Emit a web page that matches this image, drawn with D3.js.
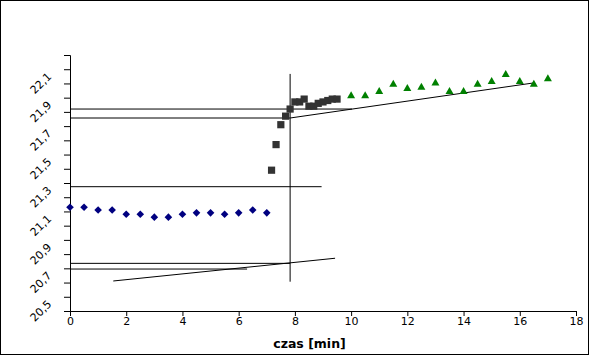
<!DOCTYPE html>
<html><head><meta charset="utf-8">
<script src="https://cdn.jsdelivr.net/npm/d3@7"></script>
<style>body{margin:0;background:#fff}svg{display:block}</style>
</head><body>
<svg id="c" width="589" height="355"></svg>
<script>
const timeA = [0,0.5,1,1.5,2,2.5,3,3.5,4,4.5,5,5.5,6,6.5,7];
const tempA = [21.23,21.23,21.21,21.21,21.18,21.18,21.16,21.16,21.18,21.19,21.19,21.18,21.19,21.21,21.19];
const timeB = [7.17,7.33,7.5,7.67,7.83,8,8.17,8.33,8.5,8.67,8.83,9,9.17,9.33,9.5];
const tempB = [21.49,21.67,21.81,21.87,21.92,21.97,21.97,21.99,21.94,21.94,21.96,21.97,21.98,21.99,21.99];
const timeC = [10,10.5,11,11.5,12,12.5,13,13.5,14,14.5,15,15.5,16,16.5,17];
const tempC = [22.02,22.02,22.05,22.10,22.07,22.08,22.11,22.05,22.05,22.10,22.12,22.17,22.12,22.10,22.14];
// construction lines [x1,y1,x2,y2] in data units
const constructionLines = [
  [0,21.92,10.03,21.92],
  [0,21.857,7.83,21.857],
  [7.83,22.167,7.83,20.706],
  [0,21.374,8.95,21.374],
  [0,20.835,7.83,20.835],
  [0,20.795,6.3,20.795],
  [1.54,20.711,9.43,20.871],
  [7.83,21.857,16.47,22.103]
];
const xTicks = [0,2,4,6,8,10,12,14,16,18];
const yTicks = d3.range(0,19).map(i => +(20.5 + i*0.1).toFixed(1));
const yLabels = [20.5,20.7,20.9,21.1,21.3,21.5,21.7,21.9,22.1];
const xTitle = "czas [min]";

const svg = d3.select("#c");
const font = "DejaVu Sans, sans-serif";
svg.append("rect").attr("x",0.5).attr("y",0.5).attr("width",588).attr("height",354)
  .attr("fill","#fff").attr("stroke","#000").attr("stroke-width",1);

const x = d3.scaleLinear().domain([0,18]).range([70,576]);
const y = d3.scaleLinear().domain([20.5,22.3]).range([311,55]);

// construction lines
svg.append("g").selectAll("line").data(constructionLines).join("line")
  .attr("x1",d=>x(d[0])).attr("y1",d=>y(d[1])).attr("x2",d=>x(d[2])).attr("y2",d=>y(d[3]))
  .attr("stroke","#000").attr("stroke-width",1);

// axes
const fmt = v => String(v.toFixed(1)).replace(".",",");
const xa = svg.append("g").attr("transform","translate(0,311)")
  .call(d3.axisBottom(x).tickValues(xTicks).tickSize(5).tickPadding(1).tickFormat(d=>d));
xa.select(".domain").attr("stroke","#000");
xa.selectAll("text").attr("font-family",font).attr("font-size",11).attr("fill","#000");

const ya = svg.append("g").attr("transform","translate(70,0)")
  .call(d3.axisLeft(y).tickValues(yTicks).tickSize(6).tickFormat(""));
ya.select(".domain").attr("stroke","#000");
svg.append("g").selectAll("text").data(yLabels).join("text")
  .attr("transform",d=>`translate(41,${y(d)}) rotate(-45)`)
  .attr("text-anchor","middle").attr("dominant-baseline","central")
  .attr("font-family",font).attr("font-size",11).attr("fill","#000")
  .text(fmt);

svg.append("text").attr("x",309.5).attr("y",348).attr("text-anchor","middle")
  .attr("font-family",font).attr("font-size",12.5).attr("font-weight","bold").text(xTitle);

// series A diamonds
const dA = timeA.map((t,i)=>[t,tempA[i]]);
svg.append("g").selectAll("path").data(dA).join("path")
  .attr("d",d=>{const cx=x(d[0]),cy=y(d[1]),r=3.8;return `M${cx},${cy-r}L${cx+r},${cy}L${cx},${cy+r}L${cx-r},${cy}Z`;})
  .attr("fill","#000080");
// series B squares
const dB = timeB.map((t,i)=>[t,tempB[i]]);
svg.append("g").selectAll("rect").data(dB).join("rect")
  .attr("x",d=>x(d[0])-3.6).attr("y",d=>y(d[1])-3.6).attr("width",7.2).attr("height",7.2)
  .attr("fill","#333333");
// series C triangles
const dC = timeC.map((t,i)=>[t,tempC[i]]);
svg.append("g").selectAll("path").data(dC).join("path")
  .attr("d",d=>{const cx=x(d[0]),cy=y(d[1]);return `M${cx},${cy-3.6}L${cx+4},${cy+3.4}L${cx-4},${cy+3.4}Z`;})
  .attr("fill","#008000");
</script>
</body></html>
